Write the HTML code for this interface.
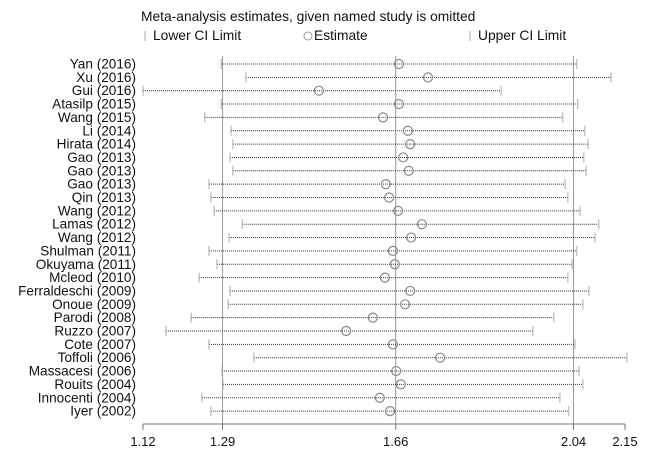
<!DOCTYPE html>
<html><head><meta charset="utf-8"><style>
body{margin:0;background:#fff;}
svg text{font-family:"Liberation Sans",Arial,sans-serif;fill:#111;}
</style></head><body>
<svg id="chart" width="648" height="455" xmlns="http://www.w3.org/2000/svg">
<text x="141" y="21" font-size="13.8">Meta-analysis estimates, given named study is omitted</text>
<g>
<line x1="145" y1="31" x2="145" y2="41" stroke="#aaa"/>
<text x="153" y="40" font-size="13.8">Lower CI Limit</text>
<circle cx="308" cy="36" r="4" fill="none" stroke="#999"/>
<text x="314" y="40" font-size="13.8">Estimate</text>
<line x1="470" y1="31" x2="470" y2="41" stroke="#aaa"/>
<text x="478" y="40" font-size="13.8">Upper CI Limit</text>
</g>
<g id="plot"></g>
</svg>
<script>
const studies=["Yan (2016)","Xu (2016)","Gui (2016)","Atasilp (2015)","Wang (2015)","Li (2014)","Hirata (2014)","Gao (2013)","Gao (2013)","Gao (2013)","Qin (2013)","Wang (2012)","Lamas  (2012)","Wang (2012)","Shulman (2011)","Okuyama (2011)","Mcleod (2010)","Ferraldeschi (2009)","Onoue (2009)","Parodi (2008)","Ruzzo (2007)","Cote (2007)","Toffoli (2006)","Massacesi (2006)","Rouits (2004)","Innocenti (2004)","Iyer (2002)"];
const lower=[1.287,1.340,1.120,1.287,1.252,1.308,1.312,1.306,1.312,1.261,1.265,1.272,1.332,1.304,1.261,1.278,1.240,1.306,1.302,1.223,1.169,1.261,1.357,1.289,1.291,1.246,1.265];
const estimate=[1.667,1.729,1.496,1.667,1.633,1.686,1.691,1.676,1.688,1.639,1.646,1.665,1.716,1.693,1.654,1.658,1.637,1.691,1.680,1.611,1.554,1.654,1.755,1.661,1.671,1.626,1.648];
const upper=[2.047,2.120,1.885,2.049,2.017,2.064,2.071,2.062,2.067,2.022,2.028,2.054,2.094,2.086,2.047,2.037,2.028,2.073,2.060,1.998,1.953,2.043,2.154,2.052,2.060,2.011,2.030];
const ticks=[1.12,1.29,1.66,2.04,2.15];
const refLines=[1.29,1.66,2.04];
const NS="http://www.w3.org/2000/svg";
const g=document.getElementById('plot');
const X0=143,X1=625,D0=1.12,D1=2.15;
function xs(v){return X0+(v-D0)/(D1-D0)*(X1-X0);}
const Y0=64,YS=13.35;
function ys(i){return Y0+i*YS;}
function mk(tag,attrs){const e=document.createElementNS(NS,tag);for(const k in attrs)e.setAttribute(k,attrs[k]);g.appendChild(e);return e;}
const axisY=424;
refLines.forEach(v=>{
 const l=mk('line',{x1:xs(v),x2:xs(v),y1:56,y2:axisY,stroke:'#999','stroke-width':1});
 
 
});
const ax=mk('line',{x1:xs(D0),x2:xs(D1),y1:axisY,y2:axisY,stroke:'#777'});


ticks.forEach(v=>{
 const t=mk('line',{x1:xs(v),x2:xs(v),y1:axisY,y2:axisY+6,stroke:'#777'});
 
 
 const tx=mk('text',{x:xs(v),y:axisY+22,'font-size':13,'text-anchor':'middle'});
 tx.textContent=v.toFixed(2);
 
 
});
studies.forEach((s,i)=>{
 const y=ys(i);
 const lb=mk('text',{x:136,y:y+4.5,'font-size':13.6,'text-anchor':'end'});
 lb.textContent=s;
 
 
 const ln=mk('line',{x1:xs(lower[i]),x2:xs(upper[i]),y1:y,y2:y,stroke:'#333','stroke-width':1,'stroke-dasharray':'1,1'});
 
 
 [lower[i],upper[i]].forEach(v=>{
  const c=mk('line',{x1:xs(v),x2:xs(v),y1:y-5,y2:y+5,stroke:'#aaa'});
  
  
 });
 const p=mk('circle',{cx:xs(estimate[i]),cy:y,r:4.5,fill:'none',stroke:'#888','stroke-width':1.2});
 
 
});
</script>
</body></html>
